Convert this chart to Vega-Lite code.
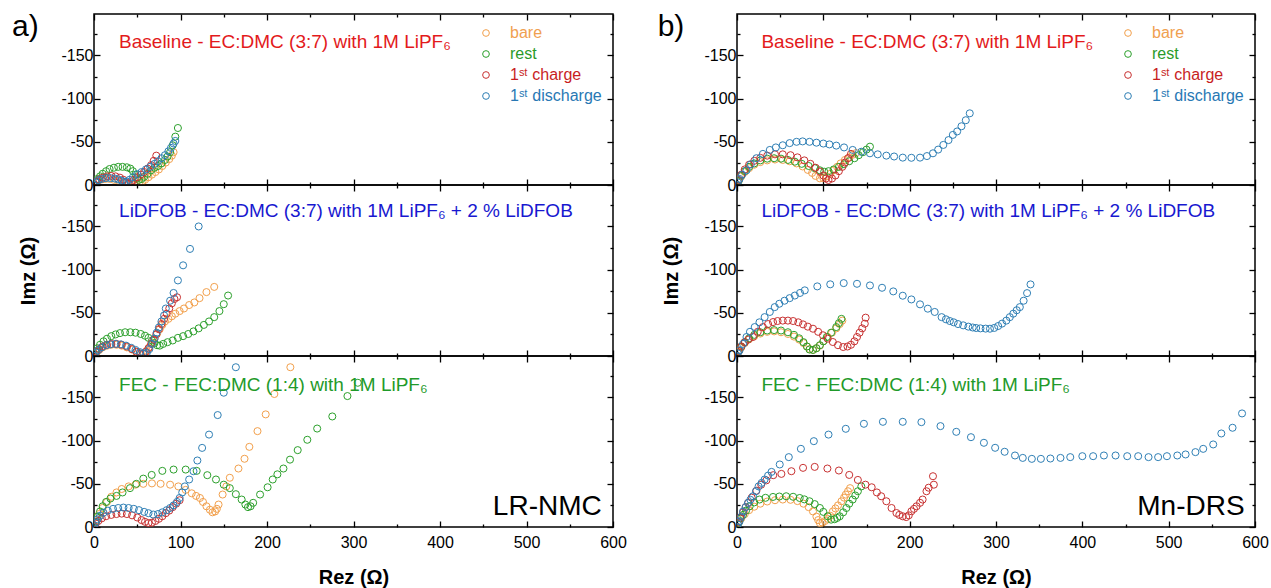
{
"$schema":"https://vega.github.io/schema/vega-lite/v6.json",
"padding":{"left":11,"top":11,"right":2,"bottom":2},
"background":"white",
"config":{"view":{"stroke":"black","strokeWidth":1.5},"font":"Liberation Sans",
 "axis":{"domain":false,"grid":false,"tickColor":"black","tickWidth":1.3,"labelColor":"black","labelFontSize":16,"labelFont":"Liberation Sans","titleFont":"Liberation Sans","titleFontSize":20,"titleFontWeight":"bold","titleColor":"black"},
 "text":{"font":"Liberation Sans"}},
"datasets":{
"A1":[
{"s":"b","re":0,"im":0},{"s":"b","re":2,"im":-3},{"s":"b","re":5,"im":-5},{"s":"b","re":9,"im":-6.5},{"s":"b","re":13,"im":-7},{"s":"b","re":18,"im":-7},{"s":"b","re":23,"im":-6},{"s":"b","re":28,"im":-5},{"s":"b","re":33,"im":-3.5},{"s":"b","re":38,"im":-2},{"s":"b","re":43,"im":-1},{"s":"b","re":47,"im":-0.5},{"s":"b","re":52,"im":-2},{"s":"b","re":56,"im":-4},{"s":"b","re":59,"im":-6},{"s":"b","re":63,"im":-9},{"s":"b","re":67,"im":-12},{"s":"b","re":71,"im":-15},{"s":"b","re":75,"im":-18},{"s":"b","re":79,"im":-22},{"s":"b","re":83,"im":-26},{"s":"b","re":87,"im":-30},{"s":"b","re":90,"im":-34},{"s":"b","re":92,"im":-38},
{"s":"r","re":0,"im":0},{"s":"r","re":2,"im":-4},{"s":"r","re":4,"im":-7},{"s":"r","re":7,"im":-10},{"s":"r","re":10,"im":-13},{"s":"r","re":14,"im":-16},{"s":"r","re":18,"im":-18.5},{"s":"r","re":23,"im":-20},{"s":"r","re":28,"im":-21},{"s":"r","re":33,"im":-21},{"s":"r","re":38,"im":-20.5},{"s":"r","re":42,"im":-19},{"s":"r","re":45,"im":-16},{"s":"r","re":48,"im":-12},{"s":"r","re":50,"im":-8},{"s":"r","re":52,"im":-6},{"s":"r","re":55,"im":-7},{"s":"r","re":58,"im":-9.5},{"s":"r","re":62,"im":-13},{"s":"r","re":66,"im":-17},{"s":"r","re":70,"im":-20},{"s":"r","re":74,"im":-22},{"s":"r","re":78,"im":-25},{"s":"r","re":82,"im":-29},{"s":"r","re":85,"im":-33},{"s":"r","re":88,"im":-38},{"s":"r","re":91,"im":-46},{"s":"r","re":94,"im":-56},{"s":"r","re":97,"im":-66},
{"s":"c","re":0,"im":0},{"s":"c","re":3,"im":-4},{"s":"c","re":6,"im":-6.5},{"s":"c","re":10,"im":-8.5},{"s":"c","re":15,"im":-10},{"s":"c","re":20,"im":-10.5},{"s":"c","re":25,"im":-10},{"s":"c","re":30,"im":-8.5},{"s":"c","re":34,"im":-6},{"s":"c","re":37,"im":-3},{"s":"c","re":40,"im":-1.5},{"s":"c","re":43,"im":-3},{"s":"c","re":46,"im":-6},{"s":"c","re":50,"im":-9},{"s":"c","re":54,"im":-12},{"s":"c","re":58,"im":-15},{"s":"c","re":62,"im":-19},{"s":"c","re":66,"im":-23},{"s":"c","re":69,"im":-28},{"s":"c","re":72,"im":-34},
{"s":"d","re":0,"im":0},{"s":"d","re":2,"im":-3},{"s":"d","re":5,"im":-5.5},{"s":"d","re":9,"im":-7},{"s":"d","re":14,"im":-8},{"s":"d","re":19,"im":-8},{"s":"d","re":24,"im":-7.5},{"s":"d","re":28,"im":-6.5},{"s":"d","re":32,"im":-5},{"s":"d","re":35,"im":-3.5},{"s":"d","re":38,"im":-4},{"s":"d","re":41,"im":-6},{"s":"d","re":45,"im":-9},{"s":"d","re":50,"im":-12.5},{"s":"d","re":55,"im":-15},{"s":"d","re":60,"im":-18},{"s":"d","re":65,"im":-21},{"s":"d","re":70,"im":-24.5},{"s":"d","re":74,"im":-27.5},{"s":"d","re":78,"im":-31},{"s":"d","re":82,"im":-34.5},{"s":"d","re":86,"im":-39},{"s":"d","re":89,"im":-43},{"s":"d","re":92,"im":-48},{"s":"d","re":94,"im":-51}
],
"A2":[
{"s":"b","re":0,"im":0},{"s":"b","re":3,"im":-4},{"s":"b","re":6,"im":-7},{"s":"b","re":10,"im":-10},{"s":"b","re":15,"im":-12},{"s":"b","re":20,"im":-13},{"s":"b","re":26,"im":-13},{"s":"b","re":32,"im":-12},{"s":"b","re":38,"im":-10},{"s":"b","re":44,"im":-7.5},{"s":"b","re":49,"im":-4.5},{"s":"b","re":54,"im":-2.5},{"s":"b","re":58,"im":-3},{"s":"b","re":61,"im":-6},{"s":"b","re":64,"im":-10},{"s":"b","re":67,"im":-15},{"s":"b","re":70,"im":-20},{"s":"b","re":73,"im":-26},{"s":"b","re":76,"im":-31},{"s":"b","re":79,"im":-36},{"s":"b","re":82,"im":-40},{"s":"b","re":86,"im":-43},{"s":"b","re":90,"im":-46},{"s":"b","re":94,"im":-49},{"s":"b","re":99,"im":-52},{"s":"b","re":104,"im":-55},{"s":"b","re":110,"im":-59},{"s":"b","re":116,"im":-62},{"s":"b","re":122,"im":-67},{"s":"b","re":130,"im":-74},{"s":"b","re":139,"im":-80},
{"s":"r","re":0,"im":0},{"s":"r","re":2,"im":-5},{"s":"r","re":4,"im":-9},{"s":"r","re":7,"im":-13},{"s":"r","re":11,"im":-17},{"s":"r","re":15,"im":-20},{"s":"r","re":20,"im":-23},{"s":"r","re":25,"im":-25},{"s":"r","re":30,"im":-26.5},{"s":"r","re":36,"im":-27.5},{"s":"r","re":42,"im":-27.5},{"s":"r","re":48,"im":-27},{"s":"r","re":54,"im":-25.5},{"s":"r","re":59,"im":-23.5},{"s":"r","re":63,"im":-21},{"s":"r","re":67,"im":-18},{"s":"r","re":70,"im":-15},{"s":"r","re":73,"im":-12.5},{"s":"r","re":76,"im":-12},{"s":"r","re":80,"im":-14},{"s":"r","re":85,"im":-16},{"s":"r","re":91,"im":-18},{"s":"r","re":97,"im":-21},{"s":"r","re":103,"im":-23},{"s":"r","re":109,"im":-25.5},{"s":"r","re":115,"im":-28.5},{"s":"r","re":121,"im":-32},{"s":"r","re":127,"im":-36},{"s":"r","re":133,"im":-40},{"s":"r","re":139,"im":-45},{"s":"r","re":145,"im":-52},{"s":"r","re":150,"im":-60},{"s":"r","re":155,"im":-70},
{"s":"c","re":0,"im":0},{"s":"c","re":3,"im":-5},{"s":"c","re":6,"im":-8},{"s":"c","re":10,"im":-11},{"s":"c","re":15,"im":-13},{"s":"c","re":20,"im":-14},{"s":"c","re":26,"im":-14},{"s":"c","re":32,"im":-13},{"s":"c","re":38,"im":-11},{"s":"c","re":44,"im":-8},{"s":"c","re":49,"im":-5},{"s":"c","re":53,"im":-3},{"s":"c","re":57,"im":-2.5},{"s":"c","re":60,"im":-5},{"s":"c","re":63,"im":-9},{"s":"c","re":66,"im":-14},{"s":"c","re":69,"im":-19},{"s":"c","re":72,"im":-25},{"s":"c","re":75,"im":-31},{"s":"c","re":78,"im":-37},{"s":"c","re":81,"im":-43},{"s":"c","re":84,"im":-49},{"s":"c","re":87,"im":-55},{"s":"c","re":90,"im":-61},{"s":"c","re":93,"im":-66},{"s":"c","re":96,"im":-68},
{"s":"d","re":0,"im":0},{"s":"d","re":2,"im":-4},{"s":"d","re":5,"im":-7},{"s":"d","re":9,"im":-10},{"s":"d","re":14,"im":-12.5},{"s":"d","re":19,"im":-13.5},{"s":"d","re":25,"im":-14},{"s":"d","re":31,"im":-13.5},{"s":"d","re":37,"im":-12},{"s":"d","re":43,"im":-9.5},{"s":"d","re":48,"im":-7},{"s":"d","re":53,"im":-4.5},{"s":"d","re":57,"im":-3},{"s":"d","re":61,"im":-3.5},{"s":"d","re":64,"im":-8},{"s":"d","re":67,"im":-14},{"s":"d","re":70,"im":-20},{"s":"d","re":72.5,"im":-27},{"s":"d","re":75,"im":-33},{"s":"d","re":78,"im":-40},{"s":"d","re":81,"im":-47},{"s":"d","re":83,"im":-55},{"s":"d","re":88,"im":-64},{"s":"d","re":92,"im":-73},{"s":"d","re":97,"im":-87.5},{"s":"d","re":103,"im":-105},{"s":"d","re":111,"im":-124},{"s":"d","re":121,"im":-150}
],
"A3":[
{"s":"b","re":0,"im":0},{"s":"b","re":3,"im":-8},{"s":"b","re":6,"im":-15},{"s":"b","re":10,"im":-22},{"s":"b","re":15,"im":-29},{"s":"b","re":20,"im":-35},{"s":"b","re":26,"im":-40},{"s":"b","re":32,"im":-44},{"s":"b","re":40,"im":-47},{"s":"b","re":48,"im":-49},{"s":"b","re":57,"im":-50},{"s":"b","re":67,"im":-50.5},{"s":"b","re":77,"im":-50},{"s":"b","re":88,"im":-49},{"s":"b","re":97.5,"im":-47},{"s":"b","re":106,"im":-43},{"s":"b","re":113,"im":-39},{"s":"b","re":118,"im":-36},{"s":"b","re":122.5,"im":-33.6},{"s":"b","re":126,"im":-29},{"s":"b","re":130,"im":-24},{"s":"b","re":134,"im":-20},{"s":"b","re":137,"im":-17},{"s":"b","re":140,"im":-18},{"s":"b","re":142,"im":-21},{"s":"b","re":144,"im":-26},{"s":"b","re":148.7,"im":-37.6},{"s":"b","re":153,"im":-47},{"s":"b","re":157,"im":-57},{"s":"b","re":167,"im":-67.7},{"s":"b","re":174,"im":-79},{"s":"b","re":179.6,"im":-92.8},{"s":"b","re":189,"im":-111},{"s":"b","re":198.5,"im":-130.4},{"s":"b","re":208.5,"im":-154},{"s":"b","re":227,"im":-185},
{"s":"r","re":0,"im":0},{"s":"r","re":2,"im":-6},{"s":"r","re":4,"im":-12},{"s":"r","re":7,"im":-18},{"s":"r","re":10,"im":-24},{"s":"r","re":14,"im":-29},{"s":"r","re":19,"im":-33},{"s":"r","re":26,"im":-36},{"s":"r","re":33,"im":-40},{"s":"r","re":41.6,"im":-45},{"s":"r","re":49,"im":-50},{"s":"r","re":57,"im":-56},{"s":"r","re":66.7,"im":-60.3},{"s":"r","re":79,"im":-65},{"s":"r","re":92,"im":-66.5},{"s":"r","re":106,"im":-66.5},{"s":"r","re":118.7,"im":-65},{"s":"r","re":131,"im":-60},{"s":"r","re":141,"im":-55},{"s":"r","re":150,"im":-49},{"s":"r","re":157,"im":-45},{"s":"r","re":164,"im":-38},{"s":"r","re":170.7,"im":-31.8},{"s":"r","re":175,"im":-26},{"s":"r","re":178,"im":-23},{"s":"r","re":181,"im":-24},{"s":"r","re":184,"im":-28},{"s":"r","re":192,"im":-37.6},{"s":"r","re":200.7,"im":-46},{"s":"r","re":206.6,"im":-55},{"s":"r","re":212,"im":-61},{"s":"r","re":219,"im":-67.7},{"s":"r","re":226.6,"im":-78},{"s":"r","re":235.5,"im":-89},{"s":"r","re":246.6,"im":-101},{"s":"r","re":258,"im":-114},{"s":"r","re":275.5,"im":-128},{"s":"r","re":293,"im":-151.6},{"s":"r","re":305,"im":-167},
{"s":"c","re":0,"im":0},{"s":"c","re":2,"im":-4},{"s":"c","re":5,"im":-7},{"s":"c","re":9,"im":-10},{"s":"c","re":14,"im":-12.5},{"s":"c","re":20,"im":-14},{"s":"c","re":26,"im":-15},{"s":"c","re":32,"im":-15.5},{"s":"c","re":38,"im":-15},{"s":"c","re":44,"im":-13.5},{"s":"c","re":50,"im":-11},{"s":"c","re":55,"im":-8},{"s":"c","re":59,"im":-6},{"s":"c","re":63,"im":-4.6},{"s":"c","re":67,"im":-5},{"s":"c","re":71,"im":-7},{"s":"c","re":75,"im":-9.5},{"s":"c","re":79,"im":-12.5},{"s":"c","re":83,"im":-16},{"s":"c","re":87,"im":-19},{"s":"c","re":91,"im":-23},{"s":"c","re":95,"im":-27},{"s":"c","re":99,"im":-31},
{"s":"d","re":0,"im":0},{"s":"d","re":2,"im":-5},{"s":"d","re":4,"im":-9},{"s":"d","re":7,"im":-13},{"s":"d","re":11,"im":-16.5},{"s":"d","re":16,"im":-19},{"s":"d","re":22,"im":-21},{"s":"d","re":28,"im":-22},{"s":"d","re":34,"im":-22.5},{"s":"d","re":40,"im":-22},{"s":"d","re":46,"im":-21},{"s":"d","re":52,"im":-19.5},{"s":"d","re":58,"im":-17.5},{"s":"d","re":63,"im":-16},{"s":"d","re":68.6,"im":-14.4},{"s":"d","re":74,"im":-15},{"s":"d","re":79,"im":-17},{"s":"d","re":84,"im":-19.5},{"s":"d","re":88,"im":-22},{"s":"d","re":92,"im":-25},{"s":"d","re":96,"im":-29},{"s":"d","re":99,"im":-33.6},{"s":"d","re":102,"im":-40},{"s":"d","re":105,"im":-47},{"s":"d","re":110,"im":-55},{"s":"d","re":115,"im":-64.6},{"s":"d","re":119.5,"im":-77},{"s":"d","re":125,"im":-91.6},{"s":"d","re":133,"im":-107},{"s":"d","re":143,"im":-129.6},{"s":"d","re":150,"im":-155.5},{"s":"d","re":164,"im":-185}
],
"B1":[
{"s":"b","re":0,"im":0},{"s":"b","re":2,"im":-5},{"s":"b","re":5,"im":-10},{"s":"b","re":9,"im":-15},{"s":"b","re":14,"im":-19.5},{"s":"b","re":20,"im":-23.5},{"s":"b","re":27,"im":-26.5},{"s":"b","re":35,"im":-28.5},{"s":"b","re":44,"im":-29.5},{"s":"b","re":53,"im":-29},{"s":"b","re":61,"im":-27.5},{"s":"b","re":69,"im":-25},{"s":"b","re":76,"im":-21.5},{"s":"b","re":82,"im":-17.5},{"s":"b","re":87,"im":-14},{"s":"b","re":91,"im":-10.5},{"s":"b","re":96,"im":-7.7},{"s":"b","re":100,"im":-8},{"s":"b","re":104,"im":-10},{"s":"b","re":108,"im":-13},{"s":"b","re":112,"im":-17},{"s":"b","re":116,"im":-21},{"s":"b","re":120,"im":-25},{"s":"b","re":125,"im":-29},{"s":"b","re":130,"im":-32},{"s":"b","re":134,"im":-35},{"s":"b","re":138,"im":-37},
{"s":"r","re":0,"im":0},{"s":"r","re":2,"im":-5},{"s":"r","re":5,"im":-11},{"s":"r","re":9,"im":-16},{"s":"r","re":14,"im":-21},{"s":"r","re":20,"im":-25},{"s":"r","re":27,"im":-28.5},{"s":"r","re":35,"im":-30.5},{"s":"r","re":43,"im":-31},{"s":"r","re":51,"im":-30.5},{"s":"r","re":59,"im":-29},{"s":"r","re":67,"im":-27},{"s":"r","re":75,"im":-24.5},{"s":"r","re":83,"im":-22},{"s":"r","re":90,"im":-19.5},{"s":"r","re":96,"im":-17},{"s":"r","re":101,"im":-15.4},{"s":"r","re":106,"im":-16},{"s":"r","re":112,"im":-18},{"s":"r","re":118,"im":-21},{"s":"r","re":124,"im":-24},{"s":"r","re":130,"im":-27.5},{"s":"r","re":136,"im":-31},{"s":"r","re":141,"im":-34.5},{"s":"r","re":146,"im":-38},{"s":"r","re":150,"im":-41},{"s":"r","re":154,"im":-44.4},
{"s":"c","re":0,"im":0},{"s":"c","re":2,"im":-6},{"s":"c","re":5,"im":-12},{"s":"c","re":9,"im":-18},{"s":"c","re":14,"im":-23.5},{"s":"c","re":20,"im":-28},{"s":"c","re":27,"im":-31.5},{"s":"c","re":35,"im":-34},{"s":"c","re":44,"im":-35.5},{"s":"c","re":53,"im":-35.5},{"s":"c","re":62,"im":-34.5},{"s":"c","re":70,"im":-32},{"s":"c","re":78,"im":-28.5},{"s":"c","re":85,"im":-24.5},{"s":"c","re":91,"im":-20},{"s":"c","re":96,"im":-15.5},{"s":"c","re":100,"im":-11},{"s":"c","re":103,"im":-7.5},{"s":"c","re":106,"im":-5.8},{"s":"c","re":110,"im":-7.5},{"s":"c","re":114,"im":-11},{"s":"c","re":118,"im":-16},{"s":"c","re":122,"im":-21},{"s":"c","re":125,"im":-26},{"s":"c","re":128.6,"im":-31},{"s":"c","re":132,"im":-36},
{"s":"d","re":0,"im":0},{"s":"d","re":1,"im":-3},{"s":"d","re":3,"im":-7},{"s":"d","re":6,"im":-12},{"s":"d","re":11,"im":-17},{"s":"d","re":16,"im":-24},{"s":"d","re":22.5,"im":-31},{"s":"d","re":30,"im":-36},{"s":"d","re":38,"im":-40.6},{"s":"d","re":45,"im":-43.5},{"s":"d","re":53,"im":-46},{"s":"d","re":61,"im":-48.5},{"s":"d","re":69,"im":-50},{"s":"d","re":76,"im":-50.5},{"s":"d","re":84,"im":-50},{"s":"d","re":92,"im":-49},{"s":"d","re":100,"im":-48},{"s":"d","re":107,"im":-47},{"s":"d","re":115,"im":-45.6},{"s":"d","re":124,"im":-43.5},{"s":"d","re":134,"im":-40.6},{"s":"d","re":144,"im":-38.5},{"s":"d","re":154,"im":-36.7},{"s":"d","re":163,"im":-35.5},{"s":"d","re":173,"im":-34},{"s":"d","re":182,"im":-33},{"s":"d","re":192,"im":-31.7},{"s":"d","re":202,"im":-31.5},{"s":"d","re":212,"im":-31.7},{"s":"d","re":220,"im":-33.5},{"s":"d","re":227,"im":-36.7},{"s":"d","re":233,"im":-41},{"s":"d","re":239,"im":-46.4},{"s":"d","re":245,"im":-52},{"s":"d","re":250,"im":-58},{"s":"d","re":255,"im":-62},{"s":"d","re":260,"im":-68},{"s":"d","re":265,"im":-75},{"s":"d","re":269.6,"im":-83}
],
"B2":[
{"s":"b","re":0,"im":0},{"s":"b","re":2,"im":-5},{"s":"b","re":5,"im":-10},{"s":"b","re":9,"im":-15},{"s":"b","re":14,"im":-19.5},{"s":"b","re":20,"im":-23},{"s":"b","re":27,"im":-26},{"s":"b","re":35,"im":-28},{"s":"b","re":43,"im":-28.5},{"s":"b","re":51,"im":-27.5},{"s":"b","re":59,"im":-25.5},{"s":"b","re":66,"im":-22.5},{"s":"b","re":72,"im":-19},{"s":"b","re":77,"im":-15},{"s":"b","re":81,"im":-11},{"s":"b","re":84,"im":-8},{"s":"b","re":88,"im":-7},{"s":"b","re":92,"im":-9},{"s":"b","re":96,"im":-12},{"s":"b","re":100,"im":-17},{"s":"b","re":105,"im":-22},{"s":"b","re":110,"im":-27},{"s":"b","re":115,"im":-32},{"s":"b","re":119,"im":-37},{"s":"b","re":122,"im":-41},
{"s":"r","re":0,"im":0},{"s":"r","re":2,"im":-6},{"s":"r","re":5,"im":-11},{"s":"r","re":9,"im":-16},{"s":"r","re":14,"im":-20.5},{"s":"r","re":20,"im":-24.5},{"s":"r","re":27,"im":-27.5},{"s":"r","re":35,"im":-29.5},{"s":"r","re":43,"im":-30},{"s":"r","re":51,"im":-29.5},{"s":"r","re":59,"im":-27.5},{"s":"r","re":66,"im":-24.5},{"s":"r","re":72,"im":-20.5},{"s":"r","re":77,"im":-16},{"s":"r","re":81,"im":-11},{"s":"r","re":84,"im":-7.5},{"s":"r","re":88,"im":-7},{"s":"r","re":92,"im":-9},{"s":"r","re":96,"im":-12.5},{"s":"r","re":100,"im":-17},{"s":"r","re":104,"im":-22},{"s":"r","re":109,"im":-27},{"s":"r","re":115,"im":-33.5},{"s":"r","re":118,"im":-38},{"s":"r","re":121,"im":-43},
{"s":"c","re":0,"im":0},{"s":"c","re":2,"im":-6},{"s":"c","re":5,"im":-11},{"s":"c","re":9,"im":-16},{"s":"c","re":13,"im":-19},{"s":"c","re":18.5,"im":-22},{"s":"c","re":24,"im":-28},{"s":"c","re":30,"im":-33.5},{"s":"c","re":36,"im":-37},{"s":"c","re":41.7,"im":-39.3},{"s":"c","re":47,"im":-40.5},{"s":"c","re":53,"im":-41},{"s":"c","re":59,"im":-41},{"s":"c","re":65,"im":-40.5},{"s":"c","re":71,"im":-39},{"s":"c","re":76.5,"im":-36.6},{"s":"c","re":82,"im":-34},{"s":"c","re":88,"im":-31.6},{"s":"c","re":94,"im":-28},{"s":"c","re":99.6,"im":-24},{"s":"c","re":105,"im":-20},{"s":"c","re":111,"im":-16.2},{"s":"c","re":117,"im":-12.5},{"s":"c","re":123,"im":-10.4},{"s":"c","re":128,"im":-11},{"s":"c","re":132,"im":-13},{"s":"c","re":136,"im":-17},{"s":"c","re":139,"im":-22},{"s":"c","re":142,"im":-27},{"s":"c","re":145,"im":-32},{"s":"c","re":148,"im":-37.4},{"s":"c","re":149,"im":-44.4},
{"s":"d","re":0,"im":0},{"s":"d","re":1,"im":-3},{"s":"d","re":3,"im":-6.6},{"s":"d","re":7,"im":-14},{"s":"d","re":11,"im":-22},{"s":"d","re":15,"im":-28},{"s":"d","re":20.5,"im":-33.5},{"s":"d","re":26,"im":-39},{"s":"d","re":32,"im":-45},{"s":"d","re":38,"im":-51},{"s":"d","re":43.7,"im":-56.6},{"s":"d","re":49,"im":-60.5},{"s":"d","re":55,"im":-64},{"s":"d","re":61,"im":-67},{"s":"d","re":67,"im":-70},{"s":"d","re":73,"im":-73},{"s":"d","re":78.5,"im":-76},{"s":"d","re":93,"im":-80.6},{"s":"d","re":108,"im":-83},{"s":"d","re":123.6,"im":-84.4},{"s":"d","re":139,"im":-83.6},{"s":"d","re":154,"im":-81.7},{"s":"d","re":168,"im":-79},{"s":"d","re":181,"im":-74.8},{"s":"d","re":192,"im":-69.8},{"s":"d","re":202,"im":-65.5},{"s":"d","re":212,"im":-59.8},{"s":"d","re":221,"im":-54.8},{"s":"d","re":229,"im":-51},{"s":"d","re":237,"im":-45},{"s":"d","re":242,"im":-42.5},{"s":"d","re":246.5,"im":-40.5},{"s":"d","re":251,"im":-39},{"s":"d","re":256,"im":-37},{"s":"d","re":262,"im":-35.5},{"s":"d","re":268,"im":-34},{"s":"d","re":273,"im":-33},{"s":"d","re":277,"im":-32.4},{"s":"d","re":282,"im":-32},{"s":"d","re":288,"im":-31.7},{"s":"d","re":293,"im":-31.6},{"s":"d","re":298,"im":-32.5},{"s":"d","re":302.5,"im":-34.7},{"s":"d","re":307,"im":-37.5},{"s":"d","re":312,"im":-41},{"s":"d","re":316,"im":-45},{"s":"d","re":320,"im":-49},{"s":"d","re":324,"im":-53},{"s":"d","re":327.6,"im":-56.6},{"s":"d","re":332,"im":-64},{"s":"d","re":336,"im":-72.8},{"s":"d","re":340,"im":-82.9}
],
"B3":[
{"s":"b","re":0,"im":0},{"s":"b","re":2,"im":-5},{"s":"b","re":5,"im":-10},{"s":"b","re":9,"im":-15},{"s":"b","re":14,"im":-19.5},{"s":"b","re":20,"im":-23.5},{"s":"b","re":27,"im":-27},{"s":"b","re":35,"im":-29.5},{"s":"b","re":44,"im":-31},{"s":"b","re":53,"im":-31.8},{"s":"b","re":62,"im":-31.5},{"s":"b","re":70,"im":-30},{"s":"b","re":77,"im":-27},{"s":"b","re":83,"im":-23},{"s":"b","re":88,"im":-18},{"s":"b","re":92,"im":-12},{"s":"b","re":94,"im":-8},{"s":"b","re":96,"im":-4.6},{"s":"b","re":99,"im":-5},{"s":"b","re":102,"im":-7},{"s":"b","re":105,"im":-9.5},{"s":"b","re":108,"im":-13},{"s":"b","re":111,"im":-18},{"s":"b","re":114,"im":-21.5},{"s":"b","re":117,"im":-25},{"s":"b","re":121,"im":-29.8},{"s":"b","re":124,"im":-34},{"s":"b","re":126,"im":-37.5},{"s":"b","re":128.6,"im":-41.4},{"s":"b","re":131,"im":-45},
{"s":"r","re":0,"im":0},{"s":"r","re":2,"im":-5},{"s":"r","re":4,"im":-10},{"s":"r","re":7,"im":-14},{"s":"r","re":10.5,"im":-19},{"s":"r","re":14.7,"im":-24},{"s":"r","re":20,"im":-28.5},{"s":"r","re":26,"im":-31.8},{"s":"r","re":33,"im":-33.8},{"s":"r","re":41.7,"im":-34.8},{"s":"r","re":49,"im":-35.3},{"s":"r","re":57,"im":-35.6},{"s":"r","re":65,"im":-35},{"s":"r","re":72.6,"im":-33.6},{"s":"r","re":78,"im":-32},{"s":"r","re":84,"im":-29.8},{"s":"r","re":90,"im":-26.5},{"s":"r","re":96,"im":-22},{"s":"r","re":100,"im":-17.5},{"s":"r","re":105,"im":-12.4},{"s":"r","re":109,"im":-8.5},{"s":"r","re":113,"im":-9},{"s":"r","re":116,"im":-10.5},{"s":"r","re":119,"im":-12.4},{"s":"r","re":123,"im":-17},{"s":"r","re":126.7,"im":-22},{"s":"r","re":130,"im":-27},{"s":"r","re":134,"im":-31.8},{"s":"r","re":137,"im":-36.5},{"s":"r","re":140,"im":-41.4},{"s":"r","re":144,"im":-47},
{"s":"c","re":0,"im":0},{"s":"c","re":2,"im":-6},{"s":"c","re":4,"im":-11},{"s":"c","re":7,"im":-17},{"s":"c","re":10,"im":-23},{"s":"c","re":13,"im":-28},{"s":"c","re":17,"im":-34},{"s":"c","re":22.5,"im":-42},{"s":"c","re":28,"im":-49},{"s":"c","re":34,"im":-54},{"s":"c","re":42,"im":-60},{"s":"c","re":51.4,"im":-61.5},{"s":"c","re":63,"im":-64.6},{"s":"c","re":76.5,"im":-68.5},{"s":"c","re":90,"im":-69.6},{"s":"c","re":104.7,"im":-67.7},{"s":"c","re":118,"im":-65.4},{"s":"c","re":130,"im":-60.3},{"s":"c","re":140,"im":-54.5},{"s":"c","re":148.8,"im":-49},{"s":"c","re":156,"im":-46},{"s":"c","re":162,"im":-40},{"s":"c","re":167,"im":-35.6},{"s":"c","re":173,"im":-29.8},{"s":"c","re":179,"im":-22},{"s":"c","re":184.7,"im":-16.2},{"s":"c","re":188,"im":-14},{"s":"c","re":192,"im":-12.4},{"s":"c","re":196,"im":-11.5},{"s":"c","re":199,"im":-13.5},{"s":"c","re":202,"im":-18.2},{"s":"c","re":205,"im":-21},{"s":"c","re":208,"im":-24},{"s":"c","re":212,"im":-28},{"s":"c","re":215,"im":-31.8},{"s":"c","re":219.5,"im":-41.4},{"s":"c","re":222,"im":-45.5},{"s":"c","re":228,"im":-49},{"s":"c","re":227,"im":-58.8},
{"s":"d","re":0,"im":0},{"s":"d","re":1,"im":-3},{"s":"d","re":3,"im":-6.6},{"s":"d","re":5,"im":-12},{"s":"d","re":7,"im":-18},{"s":"d","re":10,"im":-23},{"s":"d","re":12.7,"im":-27.8},{"s":"d","re":15.5,"im":-31.5},{"s":"d","re":18.5,"im":-35.6},{"s":"d","re":22,"im":-41.5},{"s":"d","re":25,"im":-47},{"s":"d","re":28.5,"im":-51},{"s":"d","re":32,"im":-55},{"s":"d","re":36,"im":-59.5},{"s":"d","re":40,"im":-63.8},{"s":"d","re":49.5,"im":-72.4},{"s":"d","re":60,"im":-80.9},{"s":"d","re":74,"im":-90.5},{"s":"d","re":89,"im":-99.4},{"s":"d","re":106,"im":-107},{"s":"d","re":126,"im":-113.7},{"s":"d","re":147,"im":-119.5},{"s":"d","re":169,"im":-121.8},{"s":"d","re":192,"im":-121.8},{"s":"d","re":213.6,"im":-121.4},{"s":"d","re":235.7,"im":-116.8},{"s":"d","re":254,"im":-110.2},{"s":"d","re":271,"im":-104},{"s":"d","re":286,"im":-97.5},{"s":"d","re":299,"im":-91.7},{"s":"d","re":310,"im":-87.1},{"s":"d","re":322,"im":-82.8},{"s":"d","re":331,"im":-80},{"s":"d","re":341.5,"im":-78.9},{"s":"d","re":352,"im":-78.9},{"s":"d","re":363,"im":-79.3},{"s":"d","re":374.7,"im":-80},{"s":"d","re":386,"im":-80.9},{"s":"d","re":400,"im":-82},{"s":"d","re":412.5,"im":-82},{"s":"d","re":425,"im":-82.8},{"s":"d","re":438.5,"im":-82.8},{"s":"d","re":452,"im":-82},{"s":"d","re":464.7,"im":-82},{"s":"d","re":476.7,"im":-80.9},{"s":"d","re":487.8,"im":-80.9},{"s":"d","re":498,"im":-82},{"s":"d","re":510,"im":-82.8},{"s":"d","re":519.6,"im":-84},{"s":"d","re":531,"im":-86.7},{"s":"d","re":540,"im":-90.5},{"s":"d","re":551.6,"im":-95.6},{"s":"d","re":561,"im":-108.3},{"s":"d","re":574,"im":-114.9},{"s":"d","re":585,"im":-131.5}
]
},
"hconcat":[
{"vconcat":[
 {"width":519,"height":171,"resolve":{"axis":{"x":"independent","y":"independent"}},"layer":[
  {"data":{"name":"A1"},"mark":{"type":"point","filled":false,"size":50,"strokeWidth":1,"opacity":1,"clip":true},
   "encoding":{
    "x":{"field":"re","type":"quantitative","scale":{"domain":[0,600],"nice":false,"zero":false},"axis":{"orient":"bottom","values":[0,50,100,150,200,250,300,350,400,450,500,550,600],"labels":false,"title":null,"tickSize":{"condition":{"test":"datum.value % 100 === 0","value":-6},"value":-3}}},
    "y":{"field":"im","type":"quantitative","scale":{"domain":[0,-198],"nice":false,"zero":false},"axis":{"orient":"left","values":[0,-25,-50,-75,-100,-125,-150,-175],"labelExpr":"datum.value % 50 === 0 ? '' + datum.value : ''","labelPadding":7,"title":null,"tickSize":{"condition":{"test":"datum.value % 50 === 0","value":-6},"value":-3}}},
    "color":{"field":"s","type":"nominal","scale":{"domain":["b","r","c","d"],"range":["#f2a04c","#2ca02c","#c83232","#2f7fb5"]},
     "legend":{"orient":"top-right","offset":11,"padding":0,"title":null,"labelFontSize":16,"labelFont":"Liberation Sans","labelOffset":16,"rowPadding":5,"symbolSize":45,"symbolStrokeWidth":1,"symbolType":"circle",
      "labelExpr":"datum.value === 'b' ? 'bare' : datum.value === 'r' ? 'rest' : datum.value === 'c' ? '1ˢᵗ charge' : '1ˢᵗ discharge'",
      "labelColor":{"expr":"datum.value === 'b' ? '#f0a050' : datum.value === 'r' ? '#2a9a2a' : datum.value === 'c' ? '#c81e1e' : '#2878b4'"}}}}},
  {"data":{"values":[{}]},"mark":{"type":"text","text":"Baseline - EC:DMC (3:7) with 1M LiPF₆","color":"#e31a1c","fontSize":19,"align":"left","baseline":"alphabetic"},
   "encoding":{
    "x":{"datum":29,"type":"quantitative","scale":{"domain":[0,600],"nice":false,"zero":false},"axis":{"orient":"top","values":[0,50,100,150,200,250,300,350,400,450,500,550,600],"labels":false,"title":null,"tickSize":{"condition":{"test":"datum.value % 100 === 0","value":-6},"value":-3}}},
    "y":{"datum":-158.5,"type":"quantitative","scale":{"domain":[0,-198],"nice":false,"zero":false},"axis":{"orient":"right","values":[0,-25,-50,-75,-100,-125,-150,-175],"labels":false,"title":null,"tickSize":{"condition":{"test":"datum.value % 50 === 0","value":-6},"value":-3}}}}},
  {"data":{"values":[{}]},"mark":{"type":"text","text":"a)","color":"black","fontSize":30,"align":"left","baseline":"alphabetic"},
   "encoding":{"x":{"datum":-94.8,"type":"quantitative","scale":{"domain":[0,600],"nice":false,"zero":false},"axis":null},"y":{"datum":-172,"type":"quantitative","scale":{"domain":[0,-198],"nice":false,"zero":false},"axis":null}}}
 ]},
 {"width":519,"height":171,"resolve":{"axis":{"x":"independent","y":"independent"}},"layer":[
  {"data":{"name":"A2"},"mark":{"type":"point","filled":false,"size":50,"strokeWidth":1,"opacity":1,"clip":true},
   "encoding":{
    "x":{"field":"re","type":"quantitative","scale":{"domain":[0,600],"nice":false,"zero":false},"axis":{"orient":"bottom","values":[0,50,100,150,200,250,300,350,400,450,500,550,600],"labels":false,"title":null,"tickSize":{"condition":{"test":"datum.value % 100 === 0","value":-6},"value":-3}}},
    "y":{"field":"im","type":"quantitative","scale":{"domain":[0,-198],"nice":false,"zero":false},"axis":{"orient":"left","values":[0,-25,-50,-75,-100,-125,-150,-175],"labelExpr":"datum.value % 50 === 0 ? '' + datum.value : ''","labelPadding":7,"title":"Imᴢ (Ω)","titlePadding":22,"tickSize":{"condition":{"test":"datum.value % 50 === 0","value":-6},"value":-3}}},
    "color":{"field":"s","type":"nominal","scale":{"domain":["b","r","c","d"],"range":["#f2a04c","#2ca02c","#c83232","#2f7fb5"]},"legend":null}}},
  {"data":{"values":[{}]},"mark":{"type":"text","text":"LiDFOB - EC:DMC (3:7) with 1M LiPF₆ + 2 % LiDFOB","color":"#1818d0","fontSize":19,"align":"left","baseline":"alphabetic"},
   "encoding":{
    "x":{"datum":29,"type":"quantitative","scale":{"domain":[0,600],"nice":false,"zero":false},"axis":{"orient":"top","values":[0,50,100,150,200,250,300,350,400,450,500,550,600],"labels":false,"title":null,"tickSize":{"condition":{"test":"datum.value % 100 === 0","value":-6},"value":-3}}},
    "y":{"datum":-161,"type":"quantitative","scale":{"domain":[0,-198],"nice":false,"zero":false},"axis":{"orient":"right","values":[0,-25,-50,-75,-100,-125,-150,-175],"labels":false,"title":null,"tickSize":{"condition":{"test":"datum.value % 50 === 0","value":-6},"value":-3}}}}}
 ]},
 {"width":519,"height":171,"resolve":{"axis":{"x":"independent","y":"independent"}},"layer":[
  {"data":{"name":"A3"},"mark":{"type":"point","filled":false,"size":50,"strokeWidth":1,"opacity":1,"clip":true},
   "encoding":{
    "x":{"field":"re","type":"quantitative","scale":{"domain":[0,600],"nice":false,"zero":false},"axis":{"orient":"bottom","values":[0,50,100,150,200,250,300,350,400,450,500,550,600],"labelExpr":"datum.value % 100 === 0 ? datum.label : ''","labelPadding":13,"labelFlush":false,"title":"Reᴢ (Ω)","titlePadding":17,"tickSize":{"condition":{"test":"datum.value % 100 === 0","value":-6},"value":-3}}},
    "y":{"field":"im","type":"quantitative","scale":{"domain":[0,-198],"nice":false,"zero":false},"axis":{"orient":"left","values":[0,-25,-50,-75,-100,-125,-150,-175],"labelExpr":"datum.value % 50 === 0 ? '' + datum.value : ''","labelPadding":7,"title":null,"tickSize":{"condition":{"test":"datum.value % 50 === 0","value":-6},"value":-3}}},
    "color":{"field":"s","type":"nominal","scale":{"domain":["b","r","c","d"],"range":["#f2a04c","#2ca02c","#c83232","#2f7fb5"]},"legend":null}}},
  {"data":{"values":[{}]},"mark":{"type":"text","text":"FEC - FEC:DMC (1:4) with 1M LiPF₆","color":"#1f9a2a","fontSize":19,"align":"left","baseline":"alphabetic"},
   "encoding":{
    "x":{"datum":29,"type":"quantitative","scale":{"domain":[0,600],"nice":false,"zero":false},"axis":{"orient":"top","values":[0,50,100,150,200,250,300,350,400,450,500,550,600],"labels":false,"title":null,"tickSize":{"condition":{"test":"datum.value % 100 === 0","value":-6},"value":-3}}},
    "y":{"datum":-157.5,"type":"quantitative","scale":{"domain":[0,-198],"nice":false,"zero":false},"axis":{"orient":"right","values":[0,-25,-50,-75,-100,-125,-150,-175],"labels":false,"title":null,"tickSize":{"condition":{"test":"datum.value % 50 === 0","value":-6},"value":-3}}}}},
  {"data":{"values":[{}]},"mark":{"type":"text","text":"LR-NMC","color":"black","fontSize":28,"align":"right","baseline":"alphabetic"},
   "encoding":{"x":{"datum":587,"type":"quantitative","scale":{"domain":[0,600],"nice":false,"zero":false},"axis":null},"y":{"datum":-14,"type":"quantitative","scale":{"domain":[0,-198],"nice":false,"zero":false},"axis":null}}}
 ]}
],"spacing":0,"bounds":"flush","resolve":{"scale":{"color":"independent"}}},
{"vconcat":[
 {"width":518,"height":171,"resolve":{"axis":{"x":"independent","y":"independent"}},"layer":[
  {"data":{"name":"B1"},"mark":{"type":"point","filled":false,"size":50,"strokeWidth":1,"opacity":1,"clip":true},
   "encoding":{
    "x":{"field":"re","type":"quantitative","scale":{"domain":[0,600],"nice":false,"zero":false},"axis":{"orient":"bottom","values":[0,50,100,150,200,250,300,350,400,450,500,550,600],"labels":false,"title":null,"tickSize":{"condition":{"test":"datum.value % 100 === 0","value":-6},"value":-3}}},
    "y":{"field":"im","type":"quantitative","scale":{"domain":[0,-198],"nice":false,"zero":false},"axis":{"orient":"left","values":[0,-25,-50,-75,-100,-125,-150,-175],"labelExpr":"datum.value % 50 === 0 ? '' + datum.value : ''","labelPadding":7,"title":null,"tickSize":{"condition":{"test":"datum.value % 50 === 0","value":-6},"value":-3}}},
    "color":{"field":"s","type":"nominal","scale":{"domain":["b","r","c","d"],"range":["#f2a04c","#2ca02c","#c83232","#2f7fb5"]},
     "legend":{"orient":"top-right","offset":11,"padding":0,"title":null,"labelFontSize":16,"labelFont":"Liberation Sans","labelOffset":16,"rowPadding":5,"symbolSize":45,"symbolStrokeWidth":1,"symbolType":"circle",
      "labelExpr":"datum.value === 'b' ? 'bare' : datum.value === 'r' ? 'rest' : datum.value === 'c' ? '1ˢᵗ charge' : '1ˢᵗ discharge'",
      "labelColor":{"expr":"datum.value === 'b' ? '#f0a050' : datum.value === 'r' ? '#2a9a2a' : datum.value === 'c' ? '#c81e1e' : '#2878b4'"}}}}},
  {"data":{"values":[{}]},"mark":{"type":"text","text":"Baseline - EC:DMC (3:7) with 1M LiPF₆","color":"#e31a1c","fontSize":19,"align":"left","baseline":"alphabetic"},
   "encoding":{
    "x":{"datum":28.3,"type":"quantitative","scale":{"domain":[0,600],"nice":false,"zero":false},"axis":{"orient":"top","values":[0,50,100,150,200,250,300,350,400,450,500,550,600],"labels":false,"title":null,"tickSize":{"condition":{"test":"datum.value % 100 === 0","value":-6},"value":-3}}},
    "y":{"datum":-158.5,"type":"quantitative","scale":{"domain":[0,-198],"nice":false,"zero":false},"axis":{"orient":"right","values":[0,-25,-50,-75,-100,-125,-150,-175],"labels":false,"title":null,"tickSize":{"condition":{"test":"datum.value % 50 === 0","value":-6},"value":-3}}}}},
  {"data":{"values":[{}]},"mark":{"type":"text","text":"b)","color":"black","fontSize":30,"align":"left","baseline":"alphabetic"},
   "encoding":{"x":{"datum":-91.9,"type":"quantitative","scale":{"domain":[0,600],"nice":false,"zero":false},"axis":null},"y":{"datum":-172,"type":"quantitative","scale":{"domain":[0,-198],"nice":false,"zero":false},"axis":null}}}
 ]},
 {"width":518,"height":171,"resolve":{"axis":{"x":"independent","y":"independent"}},"layer":[
  {"data":{"name":"B2"},"mark":{"type":"point","filled":false,"size":50,"strokeWidth":1,"opacity":1,"clip":true},
   "encoding":{
    "x":{"field":"re","type":"quantitative","scale":{"domain":[0,600],"nice":false,"zero":false},"axis":{"orient":"bottom","values":[0,50,100,150,200,250,300,350,400,450,500,550,600],"labels":false,"title":null,"tickSize":{"condition":{"test":"datum.value % 100 === 0","value":-6},"value":-3}}},
    "y":{"field":"im","type":"quantitative","scale":{"domain":[0,-198],"nice":false,"zero":false},"axis":{"orient":"left","values":[0,-25,-50,-75,-100,-125,-150,-175],"labelExpr":"datum.value % 50 === 0 ? '' + datum.value : ''","labelPadding":7,"title":"Imᴢ (Ω)","titlePadding":22,"tickSize":{"condition":{"test":"datum.value % 50 === 0","value":-6},"value":-3}}},
    "color":{"field":"s","type":"nominal","scale":{"domain":["b","r","c","d"],"range":["#f2a04c","#2ca02c","#c83232","#2f7fb5"]},"legend":null}}},
  {"data":{"values":[{}]},"mark":{"type":"text","text":"LiDFOB - EC:DMC (3:7) with 1M LiPF₆ + 2 % LiDFOB","color":"#1818d0","fontSize":19,"align":"left","baseline":"alphabetic"},
   "encoding":{
    "x":{"datum":28.3,"type":"quantitative","scale":{"domain":[0,600],"nice":false,"zero":false},"axis":{"orient":"top","values":[0,50,100,150,200,250,300,350,400,450,500,550,600],"labels":false,"title":null,"tickSize":{"condition":{"test":"datum.value % 100 === 0","value":-6},"value":-3}}},
    "y":{"datum":-161,"type":"quantitative","scale":{"domain":[0,-198],"nice":false,"zero":false},"axis":{"orient":"right","values":[0,-25,-50,-75,-100,-125,-150,-175],"labels":false,"title":null,"tickSize":{"condition":{"test":"datum.value % 50 === 0","value":-6},"value":-3}}}}}
 ]},
 {"width":518,"height":171,"resolve":{"axis":{"x":"independent","y":"independent"}},"layer":[
  {"data":{"name":"B3"},"mark":{"type":"point","filled":false,"size":50,"strokeWidth":1,"opacity":1,"clip":true},
   "encoding":{
    "x":{"field":"re","type":"quantitative","scale":{"domain":[0,600],"nice":false,"zero":false},"axis":{"orient":"bottom","values":[0,50,100,150,200,250,300,350,400,450,500,550,600],"labelExpr":"datum.value % 100 === 0 ? datum.label : ''","labelPadding":13,"labelFlush":false,"title":"Reᴢ (Ω)","titlePadding":17,"tickSize":{"condition":{"test":"datum.value % 100 === 0","value":-6},"value":-3}}},
    "y":{"field":"im","type":"quantitative","scale":{"domain":[0,-198],"nice":false,"zero":false},"axis":{"orient":"left","values":[0,-25,-50,-75,-100,-125,-150,-175],"labelExpr":"datum.value % 50 === 0 ? '' + datum.value : ''","labelPadding":7,"title":null,"tickSize":{"condition":{"test":"datum.value % 50 === 0","value":-6},"value":-3}}},
    "color":{"field":"s","type":"nominal","scale":{"domain":["b","r","c","d"],"range":["#f2a04c","#2ca02c","#c83232","#2f7fb5"]},"legend":null}}},
  {"data":{"values":[{}]},"mark":{"type":"text","text":"FEC - FEC:DMC (1:4) with 1M LiPF₆","color":"#1f9a2a","fontSize":19,"align":"left","baseline":"alphabetic"},
   "encoding":{
    "x":{"datum":28.3,"type":"quantitative","scale":{"domain":[0,600],"nice":false,"zero":false},"axis":{"orient":"top","values":[0,50,100,150,200,250,300,350,400,450,500,550,600],"labels":false,"title":null,"tickSize":{"condition":{"test":"datum.value % 100 === 0","value":-6},"value":-3}}},
    "y":{"datum":-157.5,"type":"quantitative","scale":{"domain":[0,-198],"nice":false,"zero":false},"axis":{"orient":"right","values":[0,-25,-50,-75,-100,-125,-150,-175],"labels":false,"title":null,"tickSize":{"condition":{"test":"datum.value % 50 === 0","value":-6},"value":-3}}}}},
  {"data":{"values":[{}]},"mark":{"type":"text","text":"Mn-DRS","color":"black","fontSize":28,"align":"right","baseline":"alphabetic"},
   "encoding":{"x":{"datum":588,"type":"quantitative","scale":{"domain":[0,600],"nice":false,"zero":false},"axis":null},"y":{"datum":-14,"type":"quantitative","scale":{"domain":[0,-198],"nice":false,"zero":false},"axis":null}}}
 ]}
],"spacing":0,"bounds":"flush","resolve":{"scale":{"color":"independent"}}}
],
"spacing":28,
"resolve":{"scale":{"color":"independent"}}
}
